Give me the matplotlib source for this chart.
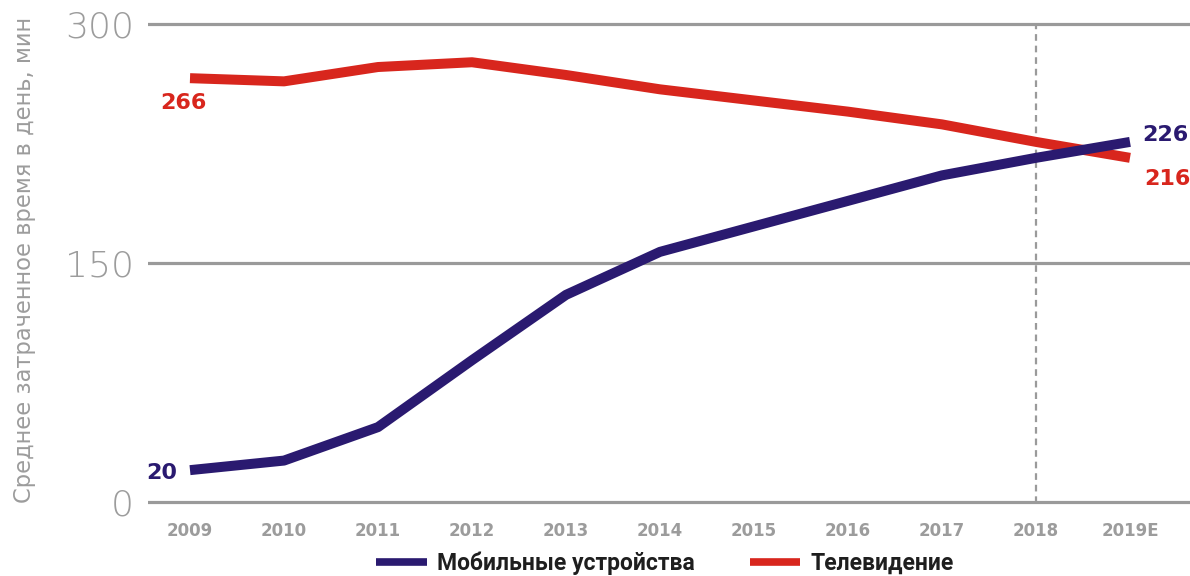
import matplotlib
matplotlib.use("Agg")
import matplotlib.pyplot as plt

# Data: average minutes per day
years = [2009, 2010, 2011, 2012, 2013, 2014, 2015, 2016, 2017, 2018, 2019]
year_labels = ["2009", "2010", "2011", "2012", "2013", "2014", "2015",
               "2016", "2017", "2018", "2019E"]
mobile = [20, 26, 47, 89, 130, 157, 173, 189, 205, 216, 226]
tv = [266, 264, 273, 276, 268, 259, 252, 245, 237, 226, 216]
y_ticks = [0, 150, 300]

series_names = ["Мобильные устройства", "Телевидение"]
ylabel = "Среднее затраченное время в день, мин"

NAVY = "#2a1a70"
RED = "#d8261d"
GRID = "#9a9a9a"
TICK = "#9c9c9c"

W, H = 1190, 576
fig = plt.figure(figsize=(W / 100, H / 100), dpi=100)

ylo, yhi = -4, 304
px_per_unit = 239 / 150
bottom_px = 502 - ylo * px_per_unit
top_px = 502 - yhi * px_per_unit
left_px = 148
ax = fig.add_axes([left_px / W, 1 - bottom_px / H, 1 - left_px / W,
                   (bottom_px - top_px) / H])
x0 = 2009 + (left_px - 190) / 94
x1 = 2009 + (W - 190) / 94
ax.set_xlim(x0, x1)
ax.set_ylim(ylo, yhi)

for s in ax.spines.values():
    s.set_visible(False)

ax.set_yticks(y_ticks)
ax.set_yticklabels([str(v) for v in y_ticks])
ax.yaxis.grid(True, color=GRID, linewidth=2.3)
ax.set_axisbelow(True)
ax.set_xticks(years)
ax.set_xticklabels(year_labels)
ax.tick_params(axis="y", length=0, pad=10, labelsize=26, labelcolor=TICK)
ax.tick_params(axis="x", length=0, pad=10, labelsize=12, labelcolor=TICK)
for lab in ax.get_yticklabels():
    lab.set_family("DejaVu Sans")
    lab.set_fontweight("light")
for lab in ax.get_xticklabels():
    lab.set_family("DejaVu Sans")
    lab.set_fontweight("bold")

# Forecast divider
ax.axvline(2018, ymin=0.01, ymax=0.985, color=GRID, linewidth=1.6,
           linestyle=(0, (3, 2.2)), zorder=1)

ax.plot(years, tv, color=RED, linewidth=7.2, solid_capstyle="butt",
        solid_joinstyle="round", label=series_names[1], zorder=3)
ax.plot(years, mobile, color=NAVY, linewidth=7.2, solid_capstyle="butt",
        solid_joinstyle="round", label=series_names[0], zorder=4)

lab_kw = dict(textcoords="offset points", fontsize=16, fontweight="bold",
              family="DejaVu Sans", va="center")
ax.annotate(str(tv[0]), (years[0], tv[0]), xytext=(-5, -18), ha="center",
            color=RED, **lab_kw)
ax.annotate(str(mobile[0]), (years[0], mobile[0]), xytext=(-9, -2), ha="right",
            color=NAVY, **lab_kw)
ax.annotate(str(mobile[-1]), (years[-1], mobile[-1]), xytext=(9, 5), ha="left",
            color=NAVY, **lab_kw)
ax.annotate(str(tv[-1]), (years[-1], tv[-1]), xytext=(10, -15), ha="left",
            color=RED, **lab_kw)

fig.text(25 / W, 1 - 260 / H, ylabel, rotation=90, ha="center", va="center",
         fontsize=16.3, color=TICK, family="DejaVu Sans")

handles, labels = ax.get_legend_handles_labels()
order = [1, 0]
leg = fig.legend([handles[i] for i in order], [labels[i] for i in order],
                 loc="center", bbox_to_anchor=(665 / W, 1 - 563 / H), ncol=2,
                 frameon=False, handlelength=2.2, handletextpad=0.45,
                 columnspacing=2.4,
                 prop={"family": "Roboto", "weight": "bold", "size": 16.5})
for line in leg.get_lines():
    line.set_linewidth(5.5)
for t in leg.get_texts():
    t.set_color("#1e1e1e")

fig.savefig("out.png", dpi=100)
